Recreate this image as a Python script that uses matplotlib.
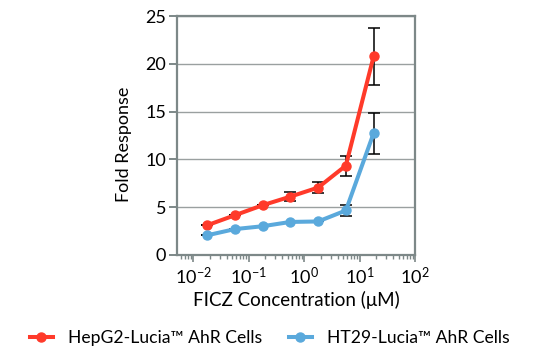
import numpy as np
import matplotlib
matplotlib.use("Agg")
import matplotlib.pyplot as plt
from matplotlib.ticker import LogLocator

plt.rcParams['font.family'] = ['Lato', 'DejaVu Sans']
plt.rcParams['mathtext.fontset'] = 'custom'
plt.rcParams['mathtext.rm'] = 'Lato'

# concentrations (uM), half-log dilutions
conc = [0.0178, 0.0562, 0.178, 0.562, 1.78, 5.62, 17.8]

hepg2 = [3.1, 4.15, 5.2, 6.1, 7.05, 9.35, 20.8]
hepg2_err = [0.0, 0.0, 0.0, 0.5, 0.6, 1.05, 3.0]

ht29 = [2.05, 2.7, 3.0, 3.45, 3.5, 4.65, 12.75]
ht29_err = [0.0, 0.0, 0.0, 0.0, 0.0, 0.55, 2.15]

labels = ["HepG2-Lucia\u2122 AhR Cells", "HT29-Lucia\u2122 AhR Cells"]
red = '#ff3a2a'
blue = '#5aa9dc'
spine_col = '#7d8888'

fig = plt.figure(figsize=(5.4, 3.58), dpi=100)
ax = fig.add_axes([0.328, 0.288, 0.441, 0.667])

for y, err, col, lab in [(hepg2, hepg2_err, red, labels[0]), (ht29, ht29_err, blue, labels[1])]:
    ax.errorbar(conc, y, yerr=err, fmt='none', ecolor='black', elinewidth=1.1,
                capsize=4.3, capthick=1.1, zorder=2)
    ax.plot(conc, y, color=col, lw=2.9, marker='o', ms=6.5, label=lab, zorder=3)

ax.set_xscale('log')
ax.set_xlim(10 ** -2.29, 100)
ax.set_ylim(0, 25)
ax.set_yticks([0, 5, 10, 15, 20, 25])
ax.xaxis.set_major_locator(LogLocator(base=10, numticks=10))
ax.xaxis.set_minor_locator(LogLocator(base=10, subs=np.arange(2, 10), numticks=10))

ax.yaxis.grid(True, color='#9aa0a0', lw=1)
ax.set_axisbelow(True)
for s in ax.spines.values():
    s.set_color(spine_col)
    s.set_linewidth(1.6)

ax.tick_params(axis='y', length=6, width=1.4, color=spine_col, labelsize=13, pad=2)
ax.tick_params(axis='x', which='major', length=5, width=1.2, color=spine_col, labelsize=13, pad=3)
ax.tick_params(axis='x', which='minor', length=3, width=1, color=spine_col)

ax.set_xlabel('FICZ Concentration (\u03bcM)', fontsize=13.5, labelpad=3)
ax.set_ylabel('Fold Response', fontsize=13)
ax.yaxis.set_label_coords(-0.19, 0.465)

fig.legend(loc='lower center', ncol=2, frameon=False, fontsize=12.6,
           bbox_to_anchor=(0.5, -0.01), handlelength=1.3, columnspacing=1.5,
           handletextpad=0.9)

fig.savefig('out.png', dpi=100)
